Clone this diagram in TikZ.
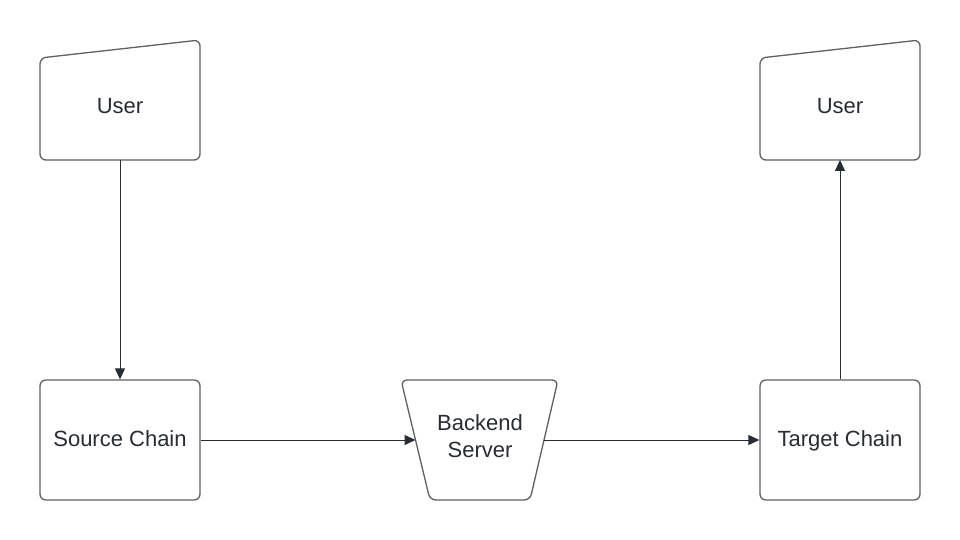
\documentclass[tikz,border=0pt]{standalone}
\usepackage{fontspec}
\setmainfont{Liberation Sans}
\usetikzlibrary{arrows.meta}
\definecolor{ink}{HTML}{282C33}
\definecolor{edge}{HTML}{5E6066}
\tikzset{
  shapebox/.style={draw=edge, line width=1.3pt, rounded corners=6pt},
  boxnode/.style={shapebox, minimum width=160pt, minimum height=120pt, inner sep=0pt},
  lbl/.style={text=ink, font=\fontsize{22}{27}\selectfont, align=center},
  baselbl/.style={lbl, anchor=base}
}
\tikzset{conn/.style={draw=ink, line width=1pt, -{Triangle[length=11pt,width=10pt]}}}
\begin{document}
\begin{tikzpicture}[x=1pt,y=-1pt]
\useasboundingbox[fill=white] (0,0) rectangle (960,540);
% Left user
\draw[shapebox] (40,58) -- (200,40) -- (200,160) -- (40,160) -- cycle;
\node[baselbl] (userL) at (120,114) {User};
\coordinate (userLb) at (120,160);
% Right user
\draw[shapebox] (760,58) -- (920,40) -- (920,160) -- (760,160) -- cycle;
\node[baselbl] (userR) at (840,114) {User};
\coordinate (userRb) at (840,160);
% Source chain
\node[boxnode] (src) at (120,440) {};
\node[baselbl] (srcl) at (120,446) {Source Chain};
% Target chain
\node[boxnode] (tgt) at (840,440) {};
\node[baselbl] (tgtl) at (840,446) {Target Chain};
% Backend server
\draw[shapebox] (401,380) -- (558,380) -- (530,500) -- (430,500) -- cycle;
\node[lbl] (backend) at (480,436) {Backend\\Server};
\coordinate (beL) at (415.5,440);
\coordinate (beR) at (544,440);
% Connectors
\draw[conn] (userLb) -- (src.north);
\draw[conn] (src.east) -- (beL);
\draw[conn] (beR) -- (tgt.west);
\draw[conn] (tgt.north) -- (userRb);
\end{tikzpicture}
\end{document}
